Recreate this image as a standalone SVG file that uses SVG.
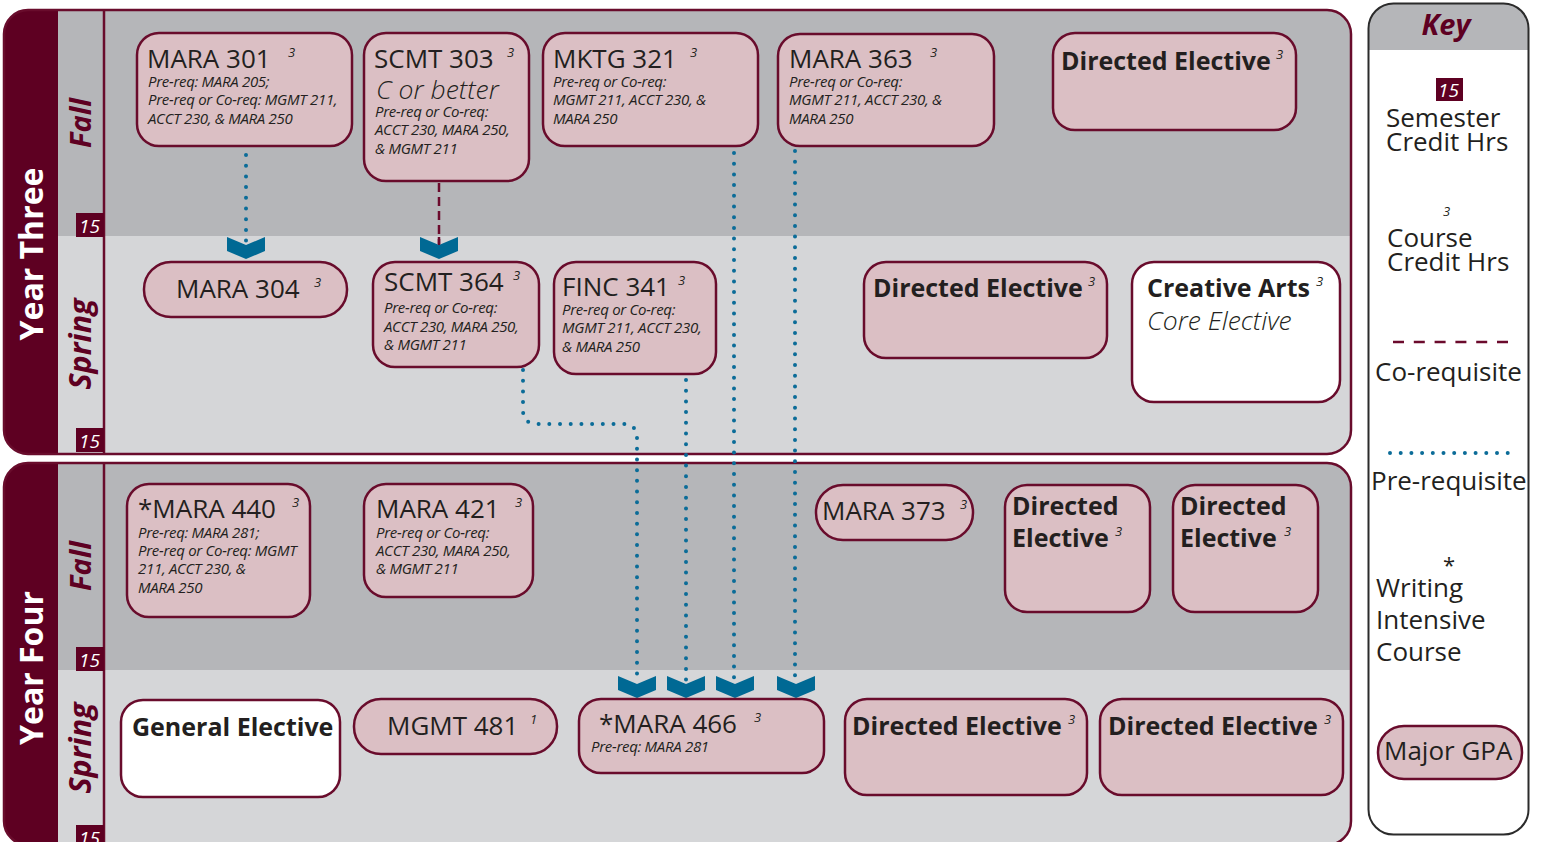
<svg xmlns="http://www.w3.org/2000/svg" width="1549" height="842" viewBox="0 0 1549 842">
<style>
.node{fill:#dbbfc4;stroke:#690c2c;stroke-width:2.5}
.wnode{fill:#ffffff;stroke:#690c2c;stroke-width:2.5}
.t{font-family:'Open Sans','Noto Sans',sans-serif;font-size:26px;fill:#231f20}
.b{font-weight:700;font-size:25px}
.sub{font-family:'Open Sans','Noto Sans',sans-serif;font-style:italic;font-size:15px;letter-spacing:-0.3px;fill:#231f20}
.sup{font-family:'Open Sans','Noto Sans',sans-serif;font-style:italic;font-size:13px;fill:#231f20}
.it{font-family:'Open Sans','Noto Sans',sans-serif;font-style:italic;font-size:26.5px;font-weight:300;fill:#231f20}
.pre{fill:none;stroke:#0b6c98;stroke-width:4;stroke-linecap:round;stroke-dasharray:0 10.7}
.co{fill:none;stroke:#6b0a2c;stroke-width:2.5;stroke-dasharray:9 5}
.chev{fill:#006994}
.badge{fill:#5e0022}
.bt{font-family:'Open Sans','Noto Sans',sans-serif;font-style:italic;font-size:19px;fill:#ffffff}
.year{font-family:'Open Sans','Noto Sans',sans-serif;font-weight:700;font-size:32px;fill:#ffffff}
.sem{font-family:'Open Sans','Noto Sans',sans-serif;font-weight:700;font-style:italic;font-size:29px;fill:#5e0022}
.k{font-family:'Open Sans','Noto Sans',sans-serif;font-size:26px;fill:#231f20}
</style>
<defs>
<clipPath id="c3"><rect x="4" y="10" width="1347" height="444" rx="24"/></clipPath>
<clipPath id="c4"><rect x="4" y="463" width="1347" height="382" rx="24"/></clipPath>
<clipPath id="ck"><rect x="1368.5" y="3.5" width="160" height="831" rx="25"/></clipPath>
<path id="chev" d="M-19,0 L0,8 L19,0 L19,14 L0,22 L-19,14 Z"/>
</defs>
<rect width="1549" height="842" fill="#ffffff"/>

<g id="year3">
<g clip-path="url(#c3)">
<rect x="0" y="0" width="1360" height="236" fill="#b5b6b9"/>
<rect x="0" y="236" width="1360" height="220" fill="#d5d6d8"/>
<rect x="0" y="0" width="58" height="460" fill="#5e0022"/>
</g>
<line x1="104" y1="10" x2="104" y2="454" stroke="#690c2c" stroke-width="2.5"/>
<rect x="4" y="10" width="1347" height="444" rx="24" fill="none" stroke="#690c2c" stroke-width="2.5"/>
<text class="year" transform="translate(43,254) rotate(-90)" text-anchor="middle">Year Three</text>
<text class="sem" transform="translate(91,123) rotate(-90)" text-anchor="middle">Fall</text>
<text class="sem" transform="translate(91,344) rotate(-90)" text-anchor="middle" style="font-size:30.5px">Spring</text>
<rect class="badge" x="76" y="213" width="28" height="24"/>
<text class="bt" x="79" y="233">15</text>
<rect class="badge" x="76" y="428" width="28" height="24"/>
<text class="bt" x="79" y="448">15</text>
</g>

<g id="year4">
<g clip-path="url(#c4)">
<rect x="0" y="455" width="1360" height="215" fill="#b5b6b9"/>
<rect x="0" y="670" width="1360" height="180" fill="#d5d6d8"/>
<rect x="0" y="455" width="58" height="400" fill="#5e0022"/>
</g>
<line x1="104" y1="463" x2="104" y2="845" stroke="#690c2c" stroke-width="2.5"/>
<rect x="4" y="463" width="1347" height="382" rx="24" fill="none" stroke="#690c2c" stroke-width="2.5"/>
<text class="year" transform="translate(43,668) rotate(-90)" text-anchor="middle">Year Four</text>
<text class="sem" transform="translate(91,566) rotate(-90)" text-anchor="middle">Fall</text>
<text class="sem" transform="translate(91,748) rotate(-90)" text-anchor="middle" style="font-size:30.5px">Spring</text>
<rect class="badge" x="76" y="647" width="28" height="24"/>
<text class="bt" x="79" y="667">15</text>
<rect class="badge" x="76" y="825" width="28" height="24"/>
<text class="bt" x="79" y="845">15</text>
</g>

<g id="connectors">
<line class="pre" x1="246" y1="155" x2="246" y2="241"/>
<line class="co" x1="439" y1="183" x2="439" y2="244"/>
<path class="pre" d="M523,370 L523,410 Q523,424 537,424 L623,424 Q637,424 637,438 L637,681"/>
<line class="pre" x1="686" y1="380" x2="686" y2="681"/>
<line class="pre" x1="734" y1="153" x2="734" y2="681"/>
<line class="pre" x1="795" y1="151" x2="795" y2="681"/>
<use href="#chev" class="chev" x="246" y="237"/>
<use href="#chev" class="chev" x="439" y="237"/>
<line class="co" x1="439" y1="237" x2="439" y2="245" stroke-dasharray="none"/>
<use href="#chev" class="chev" x="637" y="676"/>
<use href="#chev" class="chev" x="686" y="676"/>
<use href="#chev" class="chev" x="735" y="676"/>
<use href="#chev" class="chev" x="796" y="676"/>
</g>

<g id="mara301">
<rect class="node" x="137" y="33" width="215" height="113" rx="22"/>
<text class="t" x="147" y="68">MARA 301</text><text class="sup" x="288" y="57">3</text>
<text class="sub" x="148" y="87">Pre-req: MARA 205;</text>
<text class="sub" x="148" y="105">Pre-req or Co-req: MGMT 211,</text>
<text class="sub" x="148" y="124">ACCT 230, &amp; MARA 250</text>
</g>
<g id="scmt303">
<rect class="node" x="364" y="33" width="165" height="148" rx="22"/>
<text class="t" x="374" y="68">SCMT 303</text><text class="sup" x="507" y="57">3</text>
<text class="it" x="376" y="99">C or better</text>
<text class="sub" x="375" y="117">Pre-req or Co-req:</text>
<text class="sub" x="375" y="135">ACCT 230, MARA 250,</text>
<text class="sub" x="375" y="154">&amp; MGMT 211</text>
</g>
<g id="mktg321">
<rect class="node" x="543" y="33" width="215" height="113" rx="22"/>
<text class="t" x="553" y="68">MKTG 321</text><text class="sup" x="690" y="57">3</text>
<text class="sub" x="553" y="87">Pre-req or Co-req:</text>
<text class="sub" x="553" y="105">MGMT 211, ACCT 230, &amp;</text>
<text class="sub" x="553" y="124">MARA 250</text>
</g>
<g id="mara363">
<rect class="node" x="778" y="34" width="216" height="112" rx="22"/>
<text class="t" x="789" y="68">MARA 363</text><text class="sup" x="930" y="57">3</text>
<text class="sub" x="789" y="87">Pre-req or Co-req:</text>
<text class="sub" x="789" y="105">MGMT 211, ACCT 230, &amp;</text>
<text class="sub" x="789" y="124">MARA 250</text>
</g>
<g id="de-y3-fall">
<rect class="node" x="1053" y="33" width="243" height="97" rx="22"/>
<text class="t b" x="1061" y="70">Directed Elective</text><text class="sup" x="1276" y="59">3</text>
</g>

<g id="mara304">
<rect class="node" x="144" y="262" width="203" height="55" rx="27"/>
<text class="t" x="176" y="298">MARA 304</text><text class="sup" x="314" y="287">3</text>
</g>
<g id="scmt364">
<rect class="node" x="373" y="262" width="166" height="105" rx="22"/>
<text class="t" x="384" y="291">SCMT 364</text><text class="sup" x="513" y="280">3</text>
<text class="sub" x="384" y="313">Pre-req or Co-req:</text>
<text class="sub" x="384" y="332">ACCT 230, MARA 250,</text>
<text class="sub" x="384" y="350">&amp; MGMT 211</text>
</g>
<g id="finc341">
<rect class="node" x="554" y="262" width="162" height="112" rx="22"/>
<text class="t" x="562" y="296">FINC 341</text><text class="sup" x="678" y="285">3</text>
<text class="sub" x="562" y="315">Pre-req or Co-req:</text>
<text class="sub" x="562" y="333">MGMT 211, ACCT 230,</text>
<text class="sub" x="562" y="352">&amp; MARA 250</text>
</g>
<g id="de-y3-spring">
<rect class="node" x="864" y="262" width="243" height="96" rx="22"/>
<text class="t b" x="873" y="297">Directed Elective</text><text class="sup" x="1088" y="286">3</text>
</g>
<g id="creative-arts">
<rect class="wnode" x="1132" y="262" width="208" height="140" rx="22"/>
<text class="t b" x="1147" y="297">Creative Arts</text><text class="sup" x="1316" y="286">3</text>
<text class="it" x="1147" y="330">Core Elective</text>
</g>

<g id="mara440">
<rect class="node" x="127" y="484" width="183" height="133" rx="22"/>
<text class="t" x="138" y="518">*MARA 440</text><text class="sup" x="292" y="507">3</text>
<text class="sub" x="138" y="538">Pre-req: MARA 281;</text>
<text class="sub" x="138" y="556">Pre-req or Co-req: MGMT</text>
<text class="sub" x="138" y="574">211, ACCT 230, &amp;</text>
<text class="sub" x="138" y="593">MARA 250</text>
</g>
<g id="mara421">
<rect class="node" x="364" y="484" width="169" height="113" rx="22"/>
<text class="t" x="376" y="518">MARA 421</text><text class="sup" x="515" y="507">3</text>
<text class="sub" x="376" y="538">Pre-req or Co-req:</text>
<text class="sub" x="376" y="556">ACCT 230, MARA 250,</text>
<text class="sub" x="376" y="574">&amp; MGMT 211</text>
</g>
<g id="mara373">
<rect class="node" x="816" y="485" width="157" height="55" rx="27"/>
<text class="t" x="822" y="520">MARA 373</text><text class="sup" x="960" y="509">3</text>
</g>
<g id="de-y4-fall-1">
<rect class="node" x="1005" y="485" width="145" height="127" rx="22"/>
<text class="t b" x="1012" y="515">Directed</text>
<text class="t b" x="1012" y="547">Elective</text><text class="sup" x="1115" y="536">3</text>
</g>
<g id="de-y4-fall-2">
<rect class="node" x="1173" y="485" width="145" height="127" rx="22"/>
<text class="t b" x="1180" y="515">Directed</text>
<text class="t b" x="1180" y="547">Elective</text><text class="sup" x="1284" y="536">3</text>
</g>

<g id="general-elective">
<rect class="wnode" x="121" y="700" width="219" height="97" rx="22"/>
<text class="t b" x="132" y="736">General Elective</text>
</g>
<g id="mgmt481">
<rect class="node" x="354" y="699" width="203" height="55" rx="27"/>
<text class="t" x="387" y="735">MGMT 481</text><text class="sup" x="530" y="724">1</text>
</g>
<g id="mara466">
<rect class="node" x="579" y="699" width="245" height="74" rx="22"/>
<text class="t" x="599" y="733">*MARA 466</text><text class="sup" x="754" y="722">3</text>
<text class="sub" x="591" y="752">Pre-req: MARA 281</text>
</g>
<g id="de-y4-spring-1">
<rect class="node" x="845" y="699" width="242" height="96" rx="22"/>
<text class="t b" x="852" y="735">Directed Elective</text><text class="sup" x="1068" y="724">3</text>
</g>
<g id="de-y4-spring-2">
<rect class="node" x="1100" y="699" width="243" height="96" rx="22"/>
<text class="t b" x="1108" y="735">Directed Elective</text><text class="sup" x="1324" y="724">3</text>
</g>

<g id="key">
<rect x="1368.5" y="3.5" width="160" height="831" rx="25" fill="#ffffff"/>
<rect x="1360" y="0" width="180" height="50" fill="#b5b6b9" clip-path="url(#ck)"/>
<rect x="1368.5" y="3.5" width="160" height="831" rx="25" fill="none" stroke="#2b2b2b" stroke-width="2"/>
<text x="1446" y="35" text-anchor="middle" style="font-family:'Open Sans','Noto Sans',sans-serif;font-weight:700;font-style:italic;font-size:29px;fill:#5e0022">Key</text>
<rect class="badge" x="1436" y="78" width="27" height="23"/>
<text class="bt" x="1438" y="97">15</text>
<text class="k" x="1386" y="127">Semester</text>
<text class="k" x="1386" y="151">Credit Hrs</text>
<text class="sup" x="1443" y="216">3</text>
<text class="k" x="1387" y="247">Course</text>
<text class="k" x="1387" y="271">Credit Hrs</text>
<line x1="1393" y1="342" x2="1508" y2="342" stroke="#6b0a2c" stroke-width="2.5" stroke-dasharray="11 9.8"/>
<text class="k" x="1375" y="381">Co-requisite</text>
<line x1="1390" y1="453" x2="1511" y2="453" class="pre" stroke-dasharray="0 11"/>
<text class="k" x="1371" y="490">Pre-requisite</text>
<text class="k" x="1443" y="573" style="font-size:22px">*</text>
<text class="k" x="1376" y="597">Writing</text>
<text class="k" x="1376" y="629">Intensive</text>
<text class="k" x="1376" y="661">Course</text>
<rect class="node" x="1378" y="726" width="144" height="53" rx="26"/>
<text class="k" x="1384" y="760">Major GPA</text>
</g>
</svg>
